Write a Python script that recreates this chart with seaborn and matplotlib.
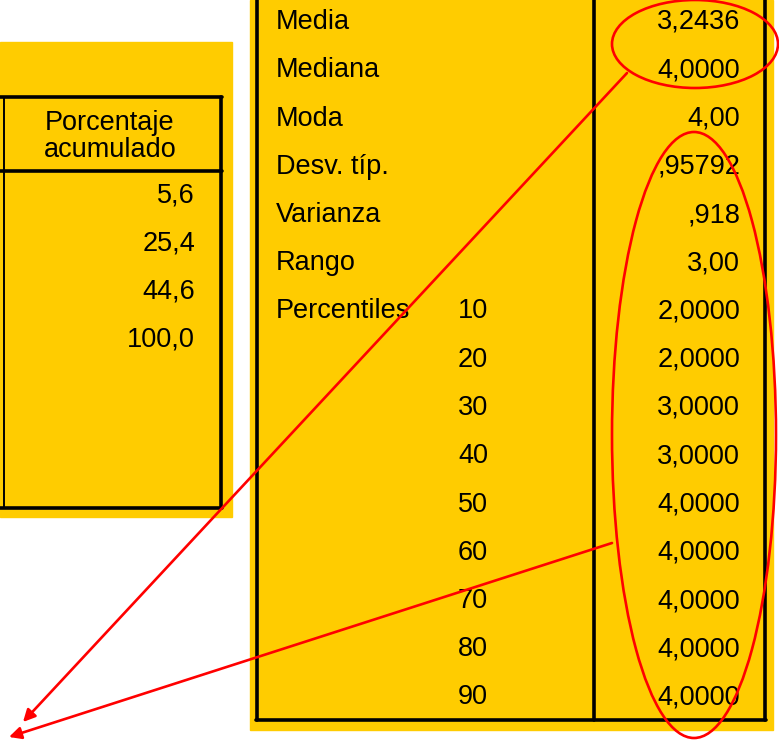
import matplotlib.pyplot as plt
import seaborn as sns
from matplotlib.patches import Rectangle, Ellipse

# Datos de la tabla izquierda (frecuencias)
left_header = ['Porcentaje', 'acumulado']
left_values = ['5,6', '25,4', '44,6', '100,0']

# Datos de la tabla derecha (estadísticos)
stat_labels = ['Media', 'Mediana', 'Moda', 'Desv. típ.', 'Varianza', 'Rango', 'Percentiles']
percentiles = ['10', '20', '30', '40', '50', '60', '70', '80', '90']
stat_values = ['3,2436', '4,0000', '4,00', ',95792', ',918', '3,00',
               '2,0000', '2,0000', '3,0000', '3,0000', '4,0000',
               '4,0000', '4,0000', '4,0000', '4,0000']

sns.set_theme(style='white')
plt.rcParams['font.family'] = ['Liberation Sans', 'DejaVu Sans']
plt.rcParams['text.color'] = 'black'

YELLOW = '#FFCC00'
RED = '#FF0000'
FS = 19.5

fig = plt.figure(figsize=(7.79, 7.43), dpi=100)
ax = fig.add_axes([0, 0, 1, 1])
ax.set_xlim(0, 779)
ax.set_ylim(743, 0)
ax.axis('off')

# Fondos amarillos
ax.add_patch(Rectangle((0, 42), 232, 475, color=YELLOW, zorder=0))
ax.add_patch(Rectangle((250, 0), 523, 730, color=YELLOW, zorder=0))

# Tabla izquierda
lw = 2.6
ax.plot([0, 222], [97, 97], color='black', lw=lw)
ax.plot([0, 222], [171, 171], color='black', lw=lw)
ax.plot([0, 222], [508, 508], color='black', lw=lw)
ax.plot([221, 221], [97, 508], color='black', lw=lw)
ax.plot([4, 4], [97, 508], color='black', lw=1.4)

ax.text(110, 120, left_header[0], ha='center', va='center_baseline', fontsize=FS, color='black')
ax.text(110, 147, left_header[1], ha='center', va='center_baseline', fontsize=FS, color='black')
for i, v in enumerate(left_values):
    ax.text(195, 192 + i * 48.3, v, ha='right', va='center_baseline', fontsize=FS, color='black')

# Tabla derecha
ax.plot([257, 257], [0, 720], color='black', lw=lw)
ax.plot([594, 594], [0, 720], color='black', lw=lw)
ax.plot([765, 765], [0, 720], color='black', lw=lw)
ax.plot([256, 766], [720, 720], color='black', lw=lw)

step = 48.25
for i, lab in enumerate(stat_labels):
    ax.text(276, 19 + i * step, lab, ha='left', va='center_baseline', fontsize=FS, color='black')
for i, p in enumerate(percentiles):
    ax.text(458, 19 + (i + 6) * step, p, ha='left', va='center_baseline', fontsize=FS, color='black')
for i, v in enumerate(stat_values):
    ax.text(740, 19 + i * step, v, ha='right', va='center_baseline', fontsize=FS, color='black')

# Anotaciones en rojo
ax.add_patch(Ellipse((695, 44), 166, 88, fill=False, edgecolor=RED, lw=1.9, zorder=5))
ax.add_patch(Ellipse((694, 435), 164, 606, fill=False, edgecolor=RED, lw=1.9, zorder=5))
arrow = dict(arrowstyle='-|>', color=RED, lw=1.9, mutation_scale=18, shrinkA=0, shrinkB=0)
ax.annotate('', xy=(23, 722), xytext=(627, 73), arrowprops=arrow, zorder=6)
ax.annotate('', xy=(9, 737), xytext=(612, 543), arrowprops=arrow, zorder=6)

fig.savefig('out.png', dpi=100)
